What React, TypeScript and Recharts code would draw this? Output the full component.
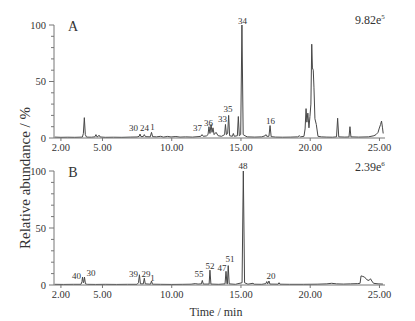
import React from 'react';
import { LineChart, Line, XAxis, YAxis, ReferenceDot } from 'recharts';

const SERIF = '"Liberation Serif", "DejaVu Serif", serif';

// Chromatogram A: [time (min), relative abundance (%)]
const traceA: [number, number][] = [
  [1.55, 0.8], [2.0, 0.6], [2.5, 0.7], [3.0, 0.6], [3.55, 0.8], [3.62, 4], [3.69, 18], [3.76, 3], [3.85, 0.8],
  [4.2, 0.7], [4.45, 1], [4.53, 3], [4.6, 1], [4.68, 1.2], [4.75, 2.5], [4.83, 0.9], [5.2, 0.6], [5.8, 0.7],
  [6.4, 0.6], [7.0, 0.8], [7.5, 0.9], [7.65, 1.5], [7.71, 3.5], [7.78, 1.2], [7.95, 1.3], [8.02, 3], [8.1, 1.2],
  [8.45, 1.0], [8.54, 5], [8.62, 1.2], [8.9, 1.0], [9.2, 1.5], [9.4, 0.8], [9.7, 1.4], [9.95, 0.9], [10.3, 1.3],
  [10.6, 0.8], [11.0, 1.0], [11.5, 0.8], [11.9, 1.2], [12.1, 1.5], [12.19, 3], [12.28, 1.5], [12.5, 1.8],
  [12.62, 3], [12.69, 10], [12.76, 4], [12.84, 12], [12.91, 5], [12.98, 9], [13.06, 3], [13.2, 5], [13.35, 2],
  [13.6, 1.5], [13.82, 3], [13.88, 12], [13.95, 3], [14.04, 4], [14.11, 20], [14.18, 2], [14.38, 1.5], [14.45, 4],
  [14.52, 1.5], [14.74, 2], [14.81, 19], [14.88, 2], [14.98, 3], [15.07, 100], [15.16, 3], [15.29, 2], [15.45, 1],
  [16.0, 0.8], [16.5, 1], [16.75, 2], [16.8, 3], [16.86, 1.5], [17.02, 1.5], [17.1, 11], [17.18, 1.2], [17.5, 0.8],
  [18.0, 0.7], [18.6, 0.8], [19.1, 1], [19.21, 2], [19.3, 1], [19.55, 1.5], [19.63, 8], [19.7, 26], [19.76, 14],
  [19.83, 22], [19.91, 9], [19.98, 19], [20.05, 30], [20.11, 83], [20.16, 62], [20.22, 60], [20.27, 45],
  [20.34, 17], [20.44, 12], [20.56, 1.5], [20.8, 1], [21.2, 0.8], [21.6, 0.7], [21.9, 1], [21.98, 17.5],
  [22.06, 1], [22.5, 0.8], [22.8, 0.9], [22.87, 10], [22.94, 1], [23.5, 0.8], [24.2, 1], [24.6, 2], [24.75, 3],
  [24.9, 5], [24.97, 8], [25.08, 12], [25.15, 15], [25.22, 9], [25.27, 4],
];

// Chromatogram B
const traceB: [number, number][] = [
  [1.55, 0.6], [2.2, 0.5], [2.9, 0.6], [3.45, 0.6], [3.52, 3], [3.56, 7], [3.62, 2], [3.66, 3], [3.7, 7],
  [3.77, 1], [3.9, 0.6], [4.5, 0.5], [5.2, 0.6], [6.0, 0.5], [6.8, 0.6], [7.5, 0.6], [7.6, 2], [7.67, 9],
  [7.74, 1], [7.95, 1], [8.02, 6], [8.09, 1], [8.47, 0.7], [8.54, 3.5], [8.61, 0.7], [9.2, 0.6], [10.0, 0.5],
  [10.8, 0.6], [11.4, 0.7], [11.7, 1.2], [11.9, 0.8], [12.14, 1], [12.21, 4], [12.28, 0.8], [12.7, 0.8],
  [12.76, 13], [12.83, 0.8], [13.4, 0.6], [13.85, 1], [13.92, 12], [13.99, 1], [14.02, 1], [14.08, 17],
  [14.15, 1], [14.6, 0.6], [15.08, 2], [15.17, 100], [15.26, 2], [15.5, 0.7], [15.87, 1.5], [15.95, 0.7],
  [16.5, 0.6], [16.8, 1.2], [16.86, 3], [16.93, 1], [17.02, 3.5], [17.09, 0.8], [17.68, 0.7], [17.75, 2],
  [17.82, 0.7], [18.5, 0.6], [19.5, 0.6], [20.5, 0.7], [21.2, 1], [21.55, 1.5], [21.9, 1], [22.4, 0.8],
  [22.9, 1], [23.4, 1.2], [23.6, 1.5], [23.67, 8], [23.8, 7.5], [23.92, 7], [24.1, 4.5], [24.25, 4],
  [24.35, 5.5], [24.45, 3.5], [24.57, 1.5], [24.9, 1], [25.25, 0.8],
];

// Peak labels: [text, time, abundance]
const labelsA: [string, number, number][] = [
  ['30', 7.24, 8.8], ['24', 8.03, 8.8], ['1', 8.61, 9.7], ['37', 11.86, 8.8], ['36', 12.65, 13.3],
  ['33', 13.66, 16.8], ['35', 14.06, 25.7], ['34', 15.11, 103.8], ['16', 17.13, 15.3],
];
const labelsB: [string, number, number][] = [
  ['40', 3.12, 7.9], ['30', 4.17, 10.8], ['39', 7.24, 9.6], ['29', 8.14, 9.6], ['1', 8.61, 6.1],
  ['55', 11.97, 9.6], ['52', 12.76, 16.7], ['47', 13.63, 14.9], ['51', 14.21, 22.8], ['48', 15.15, 104.4],
  ['20', 17.17, 7.9],
];

const xTicks = [2, 5, 10, 15, 20, 25];
const yTicks = [0, 10, 20, 30, 40, 50, 60, 70, 80, 90, 100];
const yMajor = [0, 50, 100];

const AXIS = '#777';
const INK = '#333';
const TRACE = '#474747';
const Y_TICK_SIZE = 5;
const Y_TICK_MARGIN = 3;

const YTick = (props: any) => {
  const { x, y, payload } = props;
  const axisX = x + Y_TICK_SIZE + Y_TICK_MARGIN;
  const major = yMajor.includes(payload.value);
  return (
    <g>
      <line x1={axisX} x2={axisX - (major ? 5 : 3)} y1={y} y2={y} stroke={AXIS} strokeWidth={1} />
      {major && (
        <text x={x} y={y} dy="0.35em" textAnchor="end" fontSize={10.5} fontFamily={SERIF} fill={INK}>
          {payload.value}
        </text>
      )}
    </g>
  );
};

const PeakLabel = (text: string) => (p: any) => (
  <text x={p.cx} y={p.cy} dy="0.35em" textAnchor="middle" fontSize={9} fontFamily={SERIF} fill={INK}>
    {text}
  </text>
);

const Panel = ({ trace, labels, height }: { trace: [number, number][]; labels: [string, number, number][]; height: number }) => {
  const data = trace.map(([t, v]) => ({ t, v }));
  return (
    <LineChart width={415} height={height} data={data} margin={{ top: 25, right: 30, bottom: 2, left: 10 }}>
      <XAxis
        dataKey="t"
        type="number"
        domain={[1.5, 25.4]}
        ticks={xTicks}
        allowDataOverflow
        tickFormatter={(v: number) => v.toFixed(2)}
        height={20}
        tickSize={3}
        tickMargin={3}
        stroke={AXIS}
        tick={{ fontSize: 10.5, fill: INK, fontFamily: SERIF }}
      />
      <YAxis
        type="number"
        domain={[0, 100]}
        ticks={yTicks}
        interval={0}
        width={44}
        tickSize={Y_TICK_SIZE}
        tickMargin={Y_TICK_MARGIN}
        tickLine={false}
        stroke={AXIS}
        tick={<YTick />}
      />
      <Line type="linear" dataKey="v" stroke={TRACE} strokeWidth={1} dot={false} isAnimationActive={false} />
      {labels.map(([text, t, v], i) => (
        <ReferenceDot key={i} x={t} y={v} r={0} ifOverflow="visible" shape={PeakLabel(text)} />
      ))}
    </LineChart>
  );
};

export default function App() {
  return (
    <div style={{ position: 'absolute', left: 0, top: 0, width: 415, height: 321, background: '#fff' }}>
      <div style={{ position: 'absolute', left: 0, top: 0 }}>
        <Panel trace={traceA} labels={labelsA} height={160} />
      </div>
      <div style={{ position: 'absolute', left: 0, top: 146 }}>
        <Panel trace={traceB} labels={labelsB} height={161} />
      </div>
      <svg width={415} height={321} style={{ position: 'absolute', left: 0, top: 0, pointerEvents: 'none' }}>
        <text x={73} y={26} dy="0.35em" textAnchor="middle" fontSize={14} fontFamily={SERIF} fill={INK}>A</text>
        <text x={73} y={172} dy="0.35em" textAnchor="middle" fontSize={14} fontFamily={SERIF} fill={INK}>B</text>
        <text x={355} y={24} fontSize={12} fontFamily={SERIF} fill={INK}>
          9.82e<tspan dy={-5} fontSize={7}>5</tspan>
        </text>
        <text x={355} y={171} fontSize={12} fontFamily={SERIF} fill={INK}>
          2.39e<tspan dy={-5} fontSize={7}>6</tspan>
        </text>
        <text
          x={25}
          y={178}
          transform="rotate(-90 25 178)"
          textAnchor="middle"
          dy="0.35em"
          fontSize={15}
          fontFamily={SERIF}
          fill={INK}
        >
          Relative abundance / %
        </text>
        <text x={216} y={312} dy="0.35em" textAnchor="middle" fontSize={12} fontFamily={SERIF} fill={INK}>
          Time / min
        </text>
      </svg>
    </div>
  );
}
